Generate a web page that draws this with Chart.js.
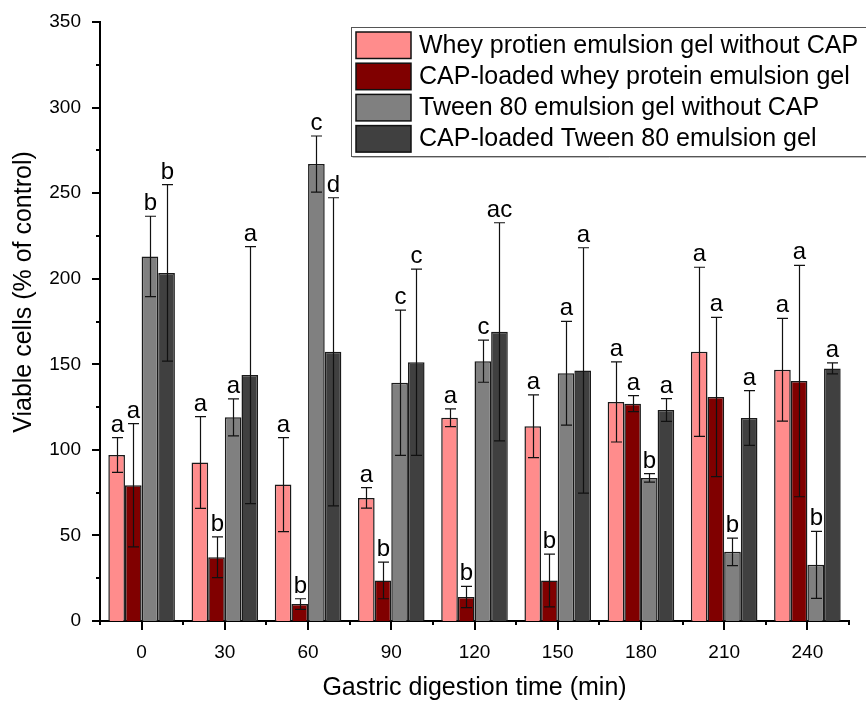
<!DOCTYPE html>
<html>
<head>
<meta charset="utf-8">
<script src="https://cdn.jsdelivr.net/npm/chart.js@4.4.1/dist/chart.umd.min.js"></script>
<style>
  html, body { margin: 0; padding: 0; background: #ffffff; }
  #wrap { width: 866px; height: 701px; position: relative; }
</style>
</head>
<body>
<div id="wrap"><canvas id="c" width="866" height="701"></canvas></div>
<script>
// ---- data ----
const categories = ['0', '30', '60', '90', '120', '150', '180', '210', '240'];
const seriesNames = [
  'Whey protien emulsion gel without CAP',
  'CAP-loaded whey protein emulsion gel',
  'Tween 80 emulsion gel without CAP',
  'CAP-loaded Tween 80 emulsion gel'
];
const wheyNoCap     = [97, 92.6, 79.7, 71.9, 118.8, 113.8, 128, 157.3, 146.8];
const wheyCap       = [79.3, 37.2, 9.9, 23.7, 14, 23.7, 127, 130.9, 140.2];
const tweenNoCap    = [213, 119, 267, 139.2, 151.8, 144.8, 83.6, 40.4, 32.8];
const tweenCap      = [203.4, 143.7, 157.3, 151.2, 169, 146.4, 123.3, 118.6, 147.6];
const wheyNoCapErr  = [10.2, 26.8, 27.5, 6, 5.2, 18.3, 23.4, 49.4, 30];
const wheyCapErr    = [36, 11.9, 3.1, 10.7, 6.2, 15.4, 4.7, 46.5, 67.6];
const tweenNoCapErr = [23.5, 10.8, 16.4, 42.4, 12.3, 30.3, 2.5, 8, 19.6];
const tweenCapErr   = [51.6, 75.1, 90, 54.4, 63.7, 71.7, 6.6, 16, 3.2];
const wheyNoCapLtr  = ['a', 'a', 'a', 'a', 'a', 'a', 'a', 'a', 'a'];
const wheyCapLtr    = ['a', 'b', 'b', 'b', 'b', 'b', 'a', 'a', 'a'];
const tweenNoCapLtr = ['b', 'a', 'c', 'c', 'c', 'a', 'b', 'b', 'b'];
const tweenCapLtr   = ['b', 'a', 'd', 'c', 'ac', 'a', 'a', 'a', 'a'];
const yTicks = [0, 50, 100, 150, 200, 250, 300, 350];
const yTitle = 'Viable cells (% of control)';
const xTitle = 'Gastric digestion time (min)';

const colors = ['#FF8C8C', '#800000', '#808080', '#404040'];
const values = [wheyNoCap, wheyCap, tweenNoCap, tweenCap];
const errors = [wheyNoCapErr, wheyCapErr, tweenNoCapErr, tweenCapErr];
const letters = [wheyNoCapLtr, wheyCapLtr, tweenNoCapLtr, tweenCapLtr];

const FONT = "'Liberation Sans', Arial, sans-serif";

const errPlugin = {
  id: 'errbars',
  afterDatasetsDraw(chart) {
    const ctx = chart.ctx;
    const ys = chart.scales.y;
    ctx.save();
    chart.data.datasets.forEach((ds, i) => {
      const meta = chart.getDatasetMeta(i);
      meta.data.forEach((el, j) => {
        const v = values[i][j], e = errors[i][j];
        const x = Math.round(el.x) + 0.5;
        const top = ys.getPixelForValue(v + e);
        const bot = ys.getPixelForValue(v - e);
        ctx.strokeStyle = '#111';
        ctx.lineWidth = 1.2;
        ctx.beginPath();
        ctx.moveTo(x, top); ctx.lineTo(x, bot);
        ctx.moveTo(x - 5.5, top); ctx.lineTo(x + 5.5, top);
        ctx.moveTo(x - 5.5, bot); ctx.lineTo(x + 5.5, bot);
        ctx.stroke();
        ctx.fillStyle = '#000';
        ctx.font = '24px ' + FONT;
        ctx.textAlign = 'center';
        ctx.textBaseline = 'alphabetic';
        ctx.fillText(letters[i][j], x, top - 6);
      });
    });
    ctx.restore();
  }
};

const axisPlugin = {
  id: 'axisTicks',
  afterDraw(chart) {
    const ctx = chart.ctx;
    const ys = chart.scales.y, xs = chart.scales.x;
    const area = chart.chartArea;
    ctx.save();
    ctx.strokeStyle = '#000';
    ctx.lineWidth = 2;
    ctx.beginPath();
    for (let v = 0; v <= 350; v += 25) {
      const y = Math.round(ys.getPixelForValue(v));
      const len = (v % 50 === 0) ? 8 : 4;
      ctx.moveTo(area.left, y); ctx.lineTo(area.left - len, y);
    }
    const n = categories.length;
    for (let j = 0; j < n; j++) {
      const x = Math.round(xs.getPixelForValue(j));
      ctx.moveTo(x, area.bottom); ctx.lineTo(x, area.bottom + 9);
    }
    for (let j = 0; j <= n; j++) {
      const x = Math.round(xs.getPixelForValue(j - 0.5));
      ctx.moveTo(x, area.bottom); ctx.lineTo(x, area.bottom + 4);
    }
    ctx.stroke();

    // y title
    ctx.save();
    ctx.translate(24, 292);
    ctx.rotate(-Math.PI / 2);
    ctx.font = '25px ' + FONT;
    ctx.fillStyle = '#000';
    ctx.textAlign = 'center';
    ctx.textBaseline = 'middle';
    ctx.fillText(yTitle, 0, 0);
    ctx.restore();

    // legend
    const lx = 351.5, ly = 27.5, lw = 520, lh = 129;
    ctx.lineWidth = 1;
    ctx.strokeStyle = '#555';
    ctx.strokeRect(lx, ly, lw, lh);
    ctx.strokeStyle = '#bbb';
    ctx.beginPath();
    ctx.moveTo(lx + 1, ly + lh + 1); ctx.lineTo(lx + lw, ly + lh + 1);
    ctx.stroke();
    ctx.font = '25px ' + FONT;
    ctx.textAlign = 'left';
    ctx.textBaseline = 'middle';
    seriesNames.forEach((name, i) => {
      const top = 32 + i * 31.2;
      ctx.fillStyle = colors[i];
      ctx.fillRect(356, top, 55, 26.5);
      ctx.strokeStyle = '#111';
      ctx.lineWidth = 1.5;
      ctx.strokeRect(356, top, 55, 26.5);
      ctx.fillStyle = '#000';
      ctx.fillText(name, 419, top + 14);
    });
    ctx.restore();
  }
};

new Chart(document.getElementById('c'), {
  type: 'bar',
  data: {
    labels: categories,
    datasets: values.map((arr, i) => ({
      label: seriesNames[i],
      data: arr,
      backgroundColor: colors[i],
      borderColor: '#1a1a1a',
      borderWidth: 1.5,
      borderSkipped: 'bottom',
      categoryPercentage: 0.8,
      barPercentage: 1.0
    }))
  },
  options: {
    responsive: false,
    animation: false,
    devicePixelRatio: 1,
    layout: { padding: { top: 22, right: 17, left: 0, bottom: 0 } },
    plugins: { legend: { display: false }, tooltip: { enabled: false } },
    scales: {
      x: {
        grid: { display: false },
        border: { display: true, color: '#000', width: 2 },
        ticks: { font: { family: FONT, size: 19 }, color: '#000', padding: 12, maxRotation: 0 },
        title: { display: true, text: xTitle, font: { family: FONT, size: 25 }, color: '#000', padding: { top: 0, bottom: -2 } },
        afterFit(scale) { scale.height = 80; scale.paddingLeft = 0; scale.paddingRight = 0; }
      },
      y: {
        min: 0, max: 350,
        grid: { display: false },
        border: { display: true, color: '#000', width: 2 },
        afterBuildTicks(scale) { scale.ticks = yTicks.map(v => ({ value: v })); },
        ticks: { font: { family: FONT, size: 19 }, color: '#000', padding: 11 },
        title: { display: false },
        afterFit(scale) { scale.width = 100; scale.paddingTop = 0; scale.paddingBottom = 0; }
      }
    }
  },
  plugins: [errPlugin, axisPlugin]
});
</script>
</body>
</html>
